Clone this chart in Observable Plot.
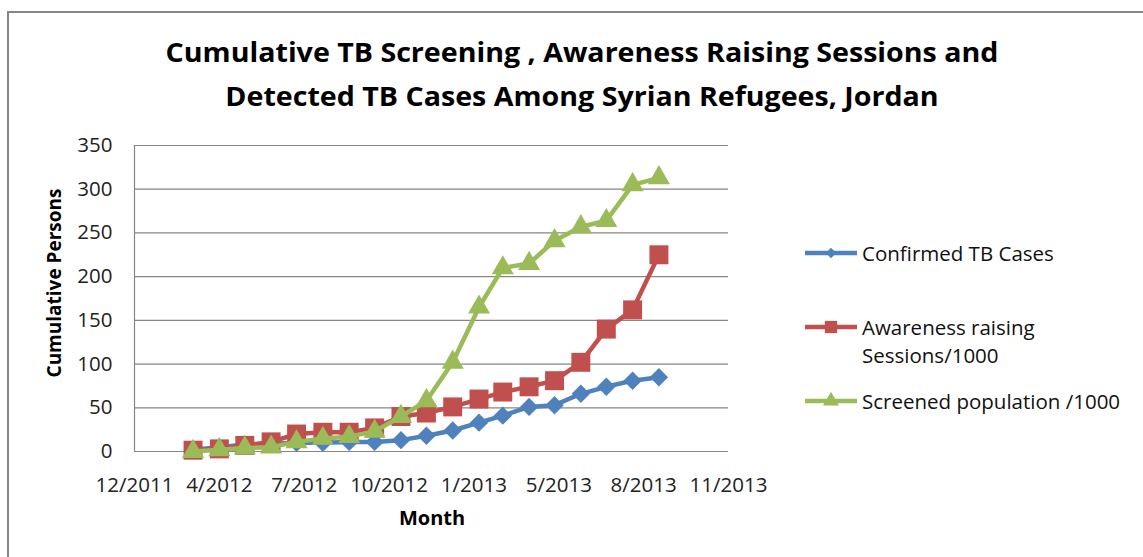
<!DOCTYPE html>
<html>
<head>
<meta charset="utf-8">
<script src="https://cdn.jsdelivr.net/npm/d3@7"></script>
<script src="https://cdn.jsdelivr.net/npm/@observablehq/plot@0.6"></script>
<style>
  body { margin: 0; background: #fff; }
  #wrap { position: relative; width: 1143px; height: 557px; overflow: hidden; font-family: "Open Sans", "Noto Sans", sans-serif; color: #111; }
  #frame { position: absolute; left: 7px; top: 11px; width: 1300px; height: 700px; border-left: 2px solid #878787; border-top: 2px solid #878787; }
  #chart { position: absolute; left: 0; top: 0; }
  #title { position: absolute; left: 82px; top: 30px; width: 1000px; text-align: center; font-weight: bold; font-size: 26px; line-height: 44px; color: #000; transform: scaleX(1.1); transform-origin: 500px 0; }
  #ylabel { position: absolute; left: 54px; top: 283px; transform: translate(-50%, -50%) rotate(-90deg); font-weight: bold; font-size: 19px; white-space: nowrap; color: #000; }
  #xlabel { position: absolute; left: 432px; top: 517px; transform: translate(-50%, -50%); font-weight: bold; font-size: 20px; white-space: nowrap; color: #000; }
  .leg { position: absolute; left: 803px; font-size: 20.5px; line-height: 28px; white-space: nowrap; color: #111; }
  .leg svg { position: absolute; left: 0; top: 0; }
  .leg span { position: absolute; left: 59px; }
</style>
</head>
<body>
<div id="wrap">
  <div id="frame"></div>
  <div id="chart"></div>
  <div id="title">Cumulative TB Screening , Awareness Raising Sessions and<br>Detected TB Cases Among Syrian Refugees, Jordan</div>
  <div id="ylabel">Cumulative Persons</div>
  <div id="xlabel">Month</div>
  <div id="legend"></div>
</div>
<script>
// ---- data ----
const months = ["2012-03","2012-04","2012-05","2012-06","2012-07","2012-08","2012-09","2012-10","2012-11","2012-12",
                "2013-01","2013-02","2013-03","2013-04","2013-05","2013-06","2013-07","2013-08","2013-09"];
const confirmedTB        = [2, 5, 8, 9, 10, 10, 11, 11, 13, 18, 24, 33, 41, 51, 53, 66, 74, 81, 85];
const awarenessSessions  = [1.5, 3, 7, 11, 20, 22, 22, 27, 40, 44, 51, 60, 68, 74, 81, 102, 140, 162, 225];
const screenedPopulation = [0, 2, 4, 5, 11, 15, 17, 23, 40, 58, 102, 165, 210, 215, 241, 257, 264, 305, 313];
const seriesNames  = ["Confirmed TB Cases", "Awareness raising Sessions/1000", "Screened population /1000"];
const seriesColors = ["#4F81BD", "#C0504D", "#9BBB59"];
const seriesSymbols = ["diamond2", "square", "triangle"];
const xTickDates = ["2011-12-23","2012-04-01","2012-07-10","2012-10-18","2013-01-26","2013-05-06","2013-08-14","2013-11-22"];
const yTicks = [0, 50, 100, 150, 200, 250, 300, 350];

// ---- build ----
const parse = d3.utcParse("%Y-%m");
const parseDay = d3.utcParse("%Y-%m-%d");
const tickDates = xTickDates.map(parseDay);
const allSeries = [confirmedTB, awarenessSessions, screenedPopulation];
const symR = [8.3, 10.7, 8.2];

const marks = [
  Plot.gridY(yTicks, {stroke: "#868686", strokeOpacity: 1, strokeWidth: 1.2}),
  Plot.ruleX([tickDates[0]], {stroke: "#868686", strokeWidth: 1.2}),
  Plot.ruleY([0], {stroke: "#868686", strokeWidth: 1.2})
];
allSeries.forEach((vals, i) => {
  const rows = months.map((m, j) => ({date: parse(m), value: vals[j]}));
  marks.push(Plot.line(rows, {x: "date", y: "value", stroke: seriesColors[i], strokeWidth: 4.5}));
  marks.push(Plot.dot(rows, {x: "date", y: "value", symbol: () => seriesSymbols[i], r: symR[i], fill: seriesColors[i], stroke: "none"}));
});

const chart = Plot.plot({
  width: 1143,
  height: 557,
  marginLeft: 134,
  marginRight: 415,
  marginTop: 145,
  marginBottom: 106,
  style: {fontFamily: "'Open Sans', 'Noto Sans', sans-serif", fontSize: "20.5px", color: "#222", background: "transparent", overflow: "visible"},
  x: {type: "utc", domain: [tickDates[0], tickDates[tickDates.length - 1]], ticks: tickDates, tickFormat: d3.utcFormat("%-m/%Y"), tickSize: 0, tickPadding: 26, label: null},
  y: {domain: [0, 350], ticks: yTicks, tickSize: 0, tickPadding: 22, label: null},
  symbol: {type: "identity"},
  marks
});
document.getElementById("chart").appendChild(chart);

// ---- legend ----
const legendY = [253, 327, 401];
const legend = document.getElementById("legend");
seriesNames.forEach((name, i) => {
  const div = document.createElement("div");
  div.className = "leg";
  div.style.top = (legendY[i] - 14) + "px";
  const sym = d3.symbol(d3[{diamond2: "symbolDiamond2", square: "symbolSquare", triangle: "symbolTriangle"}[seriesSymbols[i]]], [70, 150, 110][i])();
  div.innerHTML = `<svg width="60" height="28"><line x1="2" x2="54" y1="14" y2="14" stroke="${seriesColors[i]}" stroke-width="4.5"/>
    <path d="${sym}" transform="translate(28,14)" fill="${seriesColors[i]}"/></svg>`;
  const label = i === 1 ? "Awareness raising<br>Sessions/1000" : name;
  const span = document.createElement("span");
  span.innerHTML = label;
  div.appendChild(span);
  legend.appendChild(div);
});
</script>
</body>
</html>
